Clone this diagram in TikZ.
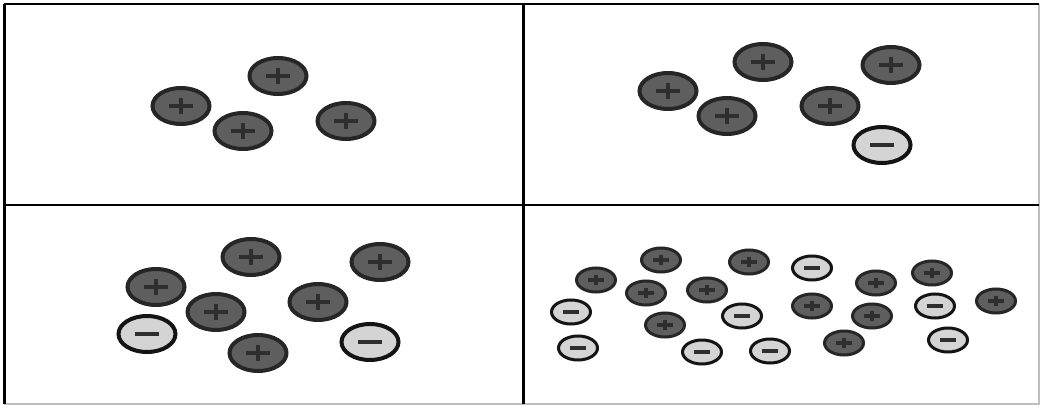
\documentclass[tikz,border=0pt]{standalone}
\usetikzlibrary{shapes.geometric,calc}
\definecolor{poscol}{HTML}{5E5E5E}
\definecolor{posedge}{HTML}{262626}
\definecolor{negcol}{HTML}{D4D4D4}
\definecolor{negedge}{HTML}{141414}
\definecolor{signcol}{HTML}{2E2E2E}
\tikzset{
    sign/.style={line width=1mm},
    ion/.style={
        ellipse,
        inner sep=0pt,
        outer sep=0pt
    },
    bigion/.style={
        ion,
        minimum width=14.25mm,
        minimum height=9mm,
        line width=1mm,
        sign/.style={line width=1.1mm}
    },
    smallion/.style={
        ion,
        minimum width=9.75mm,
        minimum height=6mm,
        line width=0.75mm,
        sign/.style={line width=0.8mm}
    },
    plus/.style={
        fill=poscol,
        draw=posedge,
        path picture={
            \draw[signcol, sign] ($(path picture bounding box.center)!0.42!(path picture bounding box.west)$)
                -- ($(path picture bounding box.center)!0.42!(path picture bounding box.east)$);
            \draw[signcol, sign] ($(path picture bounding box.center)!0.44!(path picture bounding box.north)$)
                -- ($(path picture bounding box.center)!0.44!(path picture bounding box.south)$);
        }
    },
    minus/.style={
        fill=negcol,
        draw=negedge,
        path picture={
            \draw[signcol, sign] ($(path picture bounding box.center)!0.42!(path picture bounding box.west)$)
                -- ($(path picture bounding box.center)!0.42!(path picture bounding box.east)$);
        }
    }
}
\begin{document}
\begin{tikzpicture}[x=0.25mm, y=-0.25mm]
    \useasboundingbox (0,0) rectangle (1040,405);

    % Frame and panel lines
    \coordinate (tl) at (4,4);
    \coordinate (tr) at (1039,4);
    \coordinate (bl) at (4,404);
    \coordinate (br) at (1039,404);
    \coordinate (midtop) at (523,4);
    \coordinate (midbot) at (523,404);
    \coordinate (midleft) at (4,205);
    \coordinate (midright) at (1039,205);
    \draw[black!25, line width=0.3mm] (tr) -- (br) -- (bl);
    \draw[line width=0.75mm] (bl) -- (tl);
    \draw[line width=0.55mm] (tl) -- (tr);
    \draw[line width=0.75mm] (midtop) -- (midbot);
    \draw[line width=0.55mm] (midleft) -- (midright);

    % Top left panel
    \node (plus1) [bigion, plus] at (181,106) {};
    \node (plus2) [bigion, plus] at (278,76) {};
    \node (plus3) [bigion, plus] at (243,131) {};
    \node (plus4) [bigion, plus] at (346,121) {};

    % Top right panel
    \node (plus1_2) [bigion, plus] at (668,91) {};
    \node (plus2_2) [bigion, plus] at (763,62) {};
    \node (plus3_2) [bigion, plus] at (727,116) {};
    \node (plus4_2) [bigion, plus] at (830,106) {};
    \node (plus5_2) [bigion, plus] at (891,65) {};
    \node (minus1_2) [bigion, minus] at (882,145) {};

    % Bottom left panel
    \node (plus1_3) [bigion, plus] at (156,287) {};
    \node (plus2_3) [bigion, plus] at (251,257) {};
    \node (plus3_3) [bigion, plus] at (216,312) {};
    \node (plus4_3) [bigion, plus] at (318,302) {};
    \node (plus5_3) [bigion, plus] at (380,262) {};
    \node (plus6_3) [bigion, plus] at (258,353) {};
    \node (minus1_3) [bigion, minus] at (147,334) {};
    \node (minus2_3) [bigion, minus] at (370,342) {};

    % Bottom right panel
    \node (plus1_4) [smallion, plus] at (596,280) {};
    \node (plus2_4) [smallion, plus] at (661,260) {};
    \node (plus3_4) [smallion, plus] at (646,293) {};
    \node (plus4_4) [smallion, plus] at (707,290) {};
    \node (plus5_4) [smallion, plus] at (749,262) {};
    \node (plus6_4) [smallion, plus] at (665,325) {};
    \node (plus7_4) [smallion, plus] at (876,283) {};
    \node (plus8_4) [smallion, plus] at (932,273) {};
    \node (plus9_4) [smallion, plus] at (812,306) {};
    \node (plus10_4) [smallion, plus] at (872,316) {};
    \node (plus11_4) [smallion, plus] at (996,301) {};
    \node (plus12_4) [smallion, plus] at (844,343) {};
    \node (minus1_4) [smallion, minus] at (571,312) {};
    \node (minus2_4) [smallion, minus] at (742,316) {};
    \node (minus3_4) [smallion, minus] at (578,348) {};
    \node (minus4_4) [smallion, minus] at (702,352) {};
    \node (minus5_4) [smallion, minus] at (770,351) {};
    \node (minus6_4) [smallion, minus] at (812,268) {};
    \node (minus7_4) [smallion, minus] at (935,306) {};
    \node (minus8_4) [smallion, minus] at (948,340) {};

\end{tikzpicture}
\end{document}
